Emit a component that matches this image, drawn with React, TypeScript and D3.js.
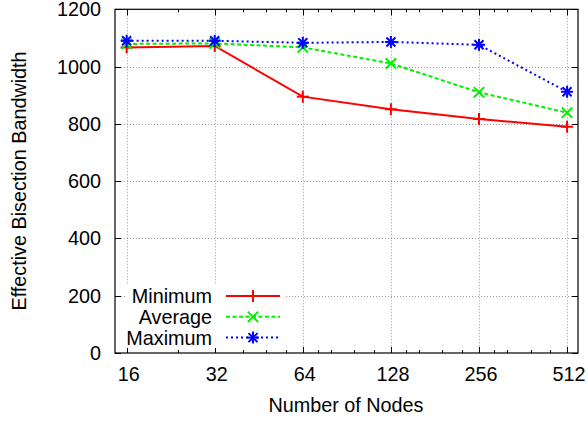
import React, { useEffect, useRef } from 'react';
import * as d3 from 'd3';

const nodes = [16, 32, 64, 128, 256, 512];
const minorNodes = [24, 40, 48, 56, 72, 80, 96, 112, 144, 160, 192, 224, 288, 320, 384, 448];
const yTicks = [0, 200, 400, 600, 800, 1000, 1200];

const minimum = [1067, 1072, 895, 851, 817, 790];
const average = [1079, 1081, 1067, 1011, 910, 839];
const maximum = [1090, 1090, 1083, 1086, 1076, 912];

const seriesNames = ['Minimum', 'Average', 'Maximum'];

const W = 587;
const H = 421;
const FONT = '"Liberation Sans", Arial, Helvetica, sans-serif';
const FS = '19.8px';

const App = () => {
  const ref = useRef<SVGSVGElement>(null);

  useEffect(() => {
    const svg = d3.select(ref.current);
    svg.selectAll('*').remove();

    const left = 115, right = 578, top = 9.3, bottom = 353;

    const x = d3.scaleLog().base(2).domain([14.6, 558]).range([left, right]);
    const y = d3.scaleLinear().domain([0, 1200]).range([bottom, top]);

    const series = [
      { name: seriesNames[0], values: minimum, color: '#ff0000', dash: null, marker: 'plus' },
      { name: seriesNames[1], values: average, color: '#00f000', dash: '4,2.5', marker: 'cross' },
      { name: seriesNames[2], values: maximum, color: '#0000ff', dash: '2,3', marker: 'star' },
    ];

    // grid
    const grid = svg.append('g').attr('stroke', '#999').attr('stroke-width', 1).attr('stroke-dasharray', '1,2');
    grid.selectAll('line.gx')
      .data(nodes)
      .enter()
      .append('line')
      .attr('x1', d => Math.round(x(d)) + 0.5)
      .attr('x2', d => Math.round(x(d)) + 0.5)
      .attr('y1', top)
      .attr('y2', bottom);
    grid.selectAll('line.gy')
      .data(yTicks.slice(1, -1))
      .enter()
      .append('line')
      .attr('x1', left)
      .attr('x2', right)
      .attr('y1', d => Math.round(y(d)) + 0.5)
      .attr('y2', d => Math.round(y(d)) + 0.5);

    // ticks (inward, mirrored)
    const ticks = svg.append('g').attr('stroke', '#000').attr('stroke-width', 1);
    const addXTicks = (vals: number[], len: number) => {
      vals.forEach(v => {
        const px = Math.round(x(v)) + 0.5;
        ticks.append('line').attr('x1', px).attr('x2', px).attr('y1', bottom).attr('y2', bottom - len);
        ticks.append('line').attr('x1', px).attr('x2', px).attr('y1', top).attr('y2', top + len);
      });
    };
    addXTicks(nodes, 6);
    addXTicks(minorNodes, 3);
    yTicks.forEach(v => {
      const py = Math.round(y(v)) + 0.5;
      ticks.append('line').attr('x1', left).attr('x2', left + 6).attr('y1', py).attr('y2', py);
      ticks.append('line').attr('x1', right).attr('x2', right - 6).attr('y1', py).attr('y2', py);
    });

    // border
    svg.append('rect')
      .attr('x', left).attr('y', top)
      .attr('width', right - left).attr('height', bottom - top)
      .attr('fill', 'none').attr('stroke', '#000').attr('stroke-width', 1.2);

    // tick labels
    svg.append('g')
      .selectAll('text')
      .data(nodes)
      .enter()
      .append('text')
      .attr('x', d => x(d) + 2)
      .attr('y', 380.5)
      .attr('text-anchor', 'middle')
      .style('font-family', FONT)
      .style('font-size', FS)
      .text(d => d);

    svg.append('g')
      .selectAll('text')
      .data(yTicks)
      .enter()
      .append('text')
      .attr('x', 101)
      .attr('y', d => y(d) + 7)
      .attr('text-anchor', 'end')
      .style('font-family', FONT)
      .style('font-size', FS)
      .text(d => d);

    // axis titles
    svg.append('text')
      .attr('x', 346)
      .attr('y', 411.5)
      .attr('text-anchor', 'middle')
      .style('font-family', FONT)
      .style('font-size', FS)
      .text('Number of Nodes');

    svg.append('text')
      .attr('transform', 'translate(25.5, 181) rotate(-90)')
      .attr('text-anchor', 'middle')
      .style('font-family', FONT)
      .style('font-size', FS)
      .text('Effective Bisection Bandwidth');

    const drawMarker = (g: any, cx: number, cy: number, kind: string, color: string) => {
      const s = 6;
      const m = g.append('g').attr('stroke', color).attr('stroke-width', 2).attr('fill', 'none');
      if (kind === 'plus' || kind === 'star') {
        m.append('line').attr('x1', cx - s).attr('x2', cx + s).attr('y1', cy).attr('y2', cy);
        m.append('line').attr('x1', cx).attr('x2', cx).attr('y1', cy - s).attr('y2', cy + s);
      }
      if (kind === 'cross' || kind === 'star') {
        const d = kind === 'star' ? 4.5 : 5.2;
        m.append('line').attr('x1', cx - d).attr('x2', cx + d).attr('y1', cy - d).attr('y2', cy + d);
        m.append('line').attr('x1', cx - d).attr('x2', cx + d).attr('y1', cy + d).attr('y2', cy - d);
      }
    };

    const line = d3.line<number>()
      .x((d, i) => x(nodes[i]))
      .y(d => y(d));

    const plot = svg.append('g');
    series.forEach(s => {
      plot.append('path')
        .datum(s.values)
        .attr('d', line)
        .attr('fill', 'none')
        .attr('stroke', s.color)
        .attr('stroke-width', 2)
        .attr('stroke-dasharray', s.dash);
      s.values.forEach((v, i) => drawMarker(plot, x(nodes[i]), y(v), s.marker, s.color));
    });

    // legend with opaque background
    const legend = svg.append('g');
    legend.append('rect')
      .attr('x', 126).attr('y', 284)
      .attr('width', 158).attr('height', 64)
      .attr('fill', '#fff');
    series.forEach((s, i) => {
      const cy = 296 + i * 20.8;
      legend.append('text')
        .attr('x', 212)
        .attr('y', cy + 7)
        .attr('text-anchor', 'end')
        .style('font-family', FONT)
        .style('font-size', FS)
        .text(s.name);
      legend.append('line')
        .attr('x1', 226).attr('x2', 280)
        .attr('y1', cy).attr('y2', cy)
        .attr('stroke', s.color)
        .attr('stroke-width', 2)
        .attr('stroke-dasharray', s.dash);
      drawMarker(legend, 253, cy, s.marker, s.color);
    });
  }, []);

  return (
    <svg
      ref={ref}
      width={W}
      height={H}
      style={{ position: 'absolute', left: 0, top: 0, background: '#fff' }}
    />
  );
};

export default App;
